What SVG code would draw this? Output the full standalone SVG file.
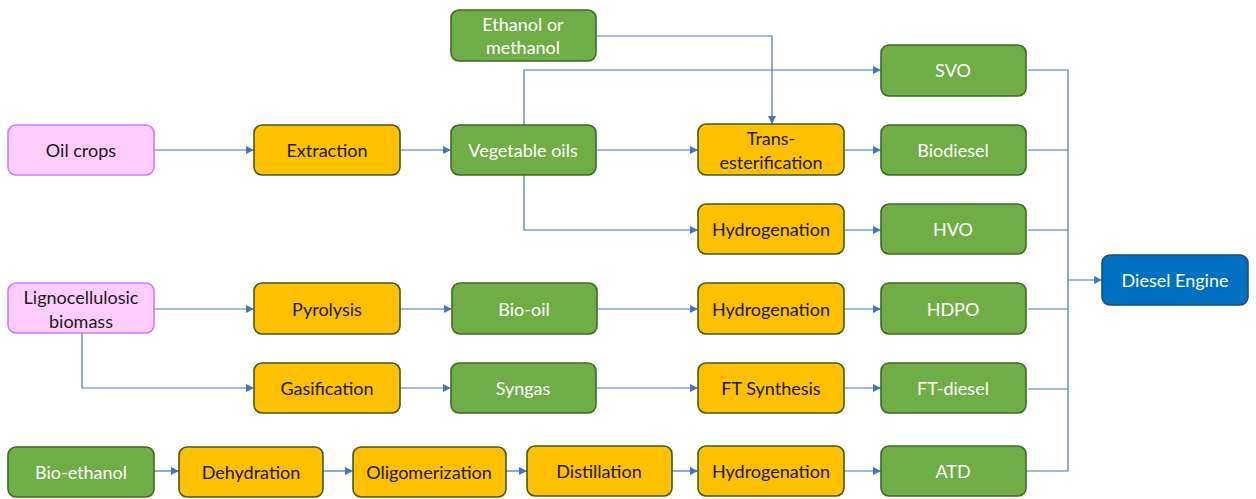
<svg xmlns="http://www.w3.org/2000/svg" width="1256" height="499" viewBox="0 0 1256 499">
  <defs>
    <marker id="arrow" viewBox="0 0 10 10" refX="10" refY="5" markerWidth="8" markerHeight="8" markerUnits="userSpaceOnUse" orient="auto">
      <path d="M0,0 L10,5 L0,10 z" fill="#4472C4"/>
    </marker>
    <style>
      rect { stroke-width: 1.6; }
      .src rect { fill: #FFCCFF; stroke: #C77DFF; }
      .proc rect { fill: #FFC000; stroke: #3D5C22; }
      .prod rect { fill: #70AD47; stroke: #3D6B26; }
      .eng rect { fill: #0070C0; stroke: #1F4E79; }
      text { font-family: Lato, "Open Sans", "Liberation Sans", sans-serif; font-size: 18px; text-anchor: middle; dominant-baseline: central; }
      .src text, .proc text { fill: #1A1A1A; }
      .prod text, .eng text { fill: #FFFFFF; }
      .links path { fill: none; stroke: #4472C4; stroke-width: 1.2; }
    </style>
  </defs>
  <rect width="1256" height="499" fill="#FFFFFF"/>

  <g class="links">
    <path d="M154,150 H254" marker-end="url(#arrow)"/>
    <path d="M400,150 H451" marker-end="url(#arrow)"/>
    <path d="M596,150 H698" marker-end="url(#arrow)"/>
    <path d="M596,36 H772 V124" marker-end="url(#arrow)"/>
    <path d="M524,125 V70 H881" marker-end="url(#arrow)"/>
    <path d="M524,175 V230 H698" marker-end="url(#arrow)"/>
    <path d="M844,150 H881" marker-end="url(#arrow)"/>
    <path d="M844,230 H881" marker-end="url(#arrow)"/>
    <path d="M154,309 H254" marker-end="url(#arrow)"/>
    <path d="M400,309 H452" marker-end="url(#arrow)"/>
    <path d="M597,309 H698" marker-end="url(#arrow)"/>
    <path d="M844,309 H881" marker-end="url(#arrow)"/>
    <path d="M82,333 V388 H254" marker-end="url(#arrow)"/>
    <path d="M400,388 H451" marker-end="url(#arrow)"/>
    <path d="M596,388 H698" marker-end="url(#arrow)"/>
    <path d="M844,388 H881" marker-end="url(#arrow)"/>
    <path d="M154,471 H179" marker-end="url(#arrow)"/>
    <path d="M323,471 H353" marker-end="url(#arrow)"/>
    <path d="M506,471 H527" marker-end="url(#arrow)"/>
    <path d="M672,471 H698" marker-end="url(#arrow)"/>
    <path d="M844,471 H881" marker-end="url(#arrow)"/>
    <!-- collector bus into the engine -->
    <path d="M1028,70 H1068 V471 H1026"/>
    <path d="M1028,150 H1068"/>
    <path d="M1028,230 H1068"/>
    <path d="M1028,309 H1068"/>
    <path d="M1028,389 H1068"/>
    <path d="M1068,280 H1102" marker-end="url(#arrow)"/>
  </g>

  <g id="oil-crops" class="src"><rect x="8" y="125" width="146" height="50" rx="8"/><text x="81" y="150">Oil crops</text></g>
  <g id="lignocellulosic-biomass" class="src"><rect x="8" y="283" width="146" height="50" rx="8"/><text x="81" y="297">Lignocellulosic</text><text x="81" y="321">biomass</text></g>
  <g id="bio-ethanol" class="prod"><rect x="8" y="447" width="146" height="50" rx="8"/><text x="81" y="472">Bio-ethanol</text></g>

  <g id="extraction" class="proc"><rect x="254" y="125" width="146" height="50" rx="8"/><text x="327" y="150">Extraction</text></g>
  <g id="pyrolysis" class="proc"><rect x="254" y="283" width="146" height="51" rx="8"/><text x="327" y="309">Pyrolysis</text></g>
  <g id="gasification" class="proc"><rect x="254" y="363" width="146" height="50" rx="8"/><text x="327" y="388">Gasification</text></g>
  <g id="dehydration" class="proc"><rect x="179" y="447" width="144" height="50" rx="8"/><text x="251" y="472">Dehydration</text></g>
  <g id="oligomerization" class="proc"><rect x="353" y="447" width="153" height="50" rx="8"/><text x="429" y="472">Oligomerization</text></g>
  <g id="distillation" class="proc"><rect x="527" y="446" width="145" height="50" rx="8"/><text x="599" y="471">Distillation</text></g>

  <g id="ethanol-or-methanol" class="prod"><rect x="451" y="10" width="145" height="51" rx="8"/><text x="523" y="24">Ethanol or</text><text x="523" y="47">methanol</text></g>
  <g id="vegetable-oils" class="prod"><rect x="451" y="125" width="145" height="50" rx="8"/><text x="523" y="150">Vegetable oils</text></g>
  <g id="bio-oil" class="prod"><rect x="452" y="283" width="145" height="51" rx="8"/><text x="524" y="309">Bio-oil</text></g>
  <g id="syngas" class="prod"><rect x="451" y="363" width="145" height="50" rx="8"/><text x="523" y="388">Syngas</text></g>

  <g id="transesterification" class="proc"><rect x="698" y="124" width="146" height="51" rx="8"/><text x="771" y="138">Trans-</text><text x="771" y="162">esterification</text></g>
  <g id="hydrogenation-1" class="proc"><rect x="698" y="204" width="146" height="50" rx="8"/><text x="771" y="229">Hydrogenation</text></g>
  <g id="hydrogenation-2" class="proc"><rect x="698" y="283" width="146" height="51" rx="8"/><text x="771" y="309">Hydrogenation</text></g>
  <g id="ft-synthesis" class="proc"><rect x="698" y="363" width="146" height="50" rx="8"/><text x="771" y="388">FT Synthesis</text></g>
  <g id="hydrogenation-3" class="proc"><rect x="698" y="446" width="146" height="50" rx="8"/><text x="771" y="471">Hydrogenation</text></g>

  <g id="svo" class="prod"><rect x="881" y="45" width="145" height="51" rx="8"/><text x="953" y="70">SVO</text></g>
  <g id="biodiesel" class="prod"><rect x="881" y="125" width="145" height="50" rx="8"/><text x="953" y="150">Biodiesel</text></g>
  <g id="hvo" class="prod"><rect x="881" y="204" width="145" height="50" rx="8"/><text x="953" y="229">HVO</text></g>
  <g id="hdpo" class="prod"><rect x="881" y="283" width="145" height="51" rx="8"/><text x="953" y="309">HDPO</text></g>
  <g id="ft-diesel" class="prod"><rect x="881" y="363" width="145" height="50" rx="8"/><text x="953" y="388">FT-diesel</text></g>
  <g id="atd" class="prod"><rect x="881" y="446" width="145" height="50" rx="8"/><text x="953" y="471">ATD</text></g>

  <g id="diesel-engine" class="eng"><rect x="1102" y="255" width="146" height="50" rx="8"/><text x="1175" y="280">Diesel Engine</text></g>
</svg>
